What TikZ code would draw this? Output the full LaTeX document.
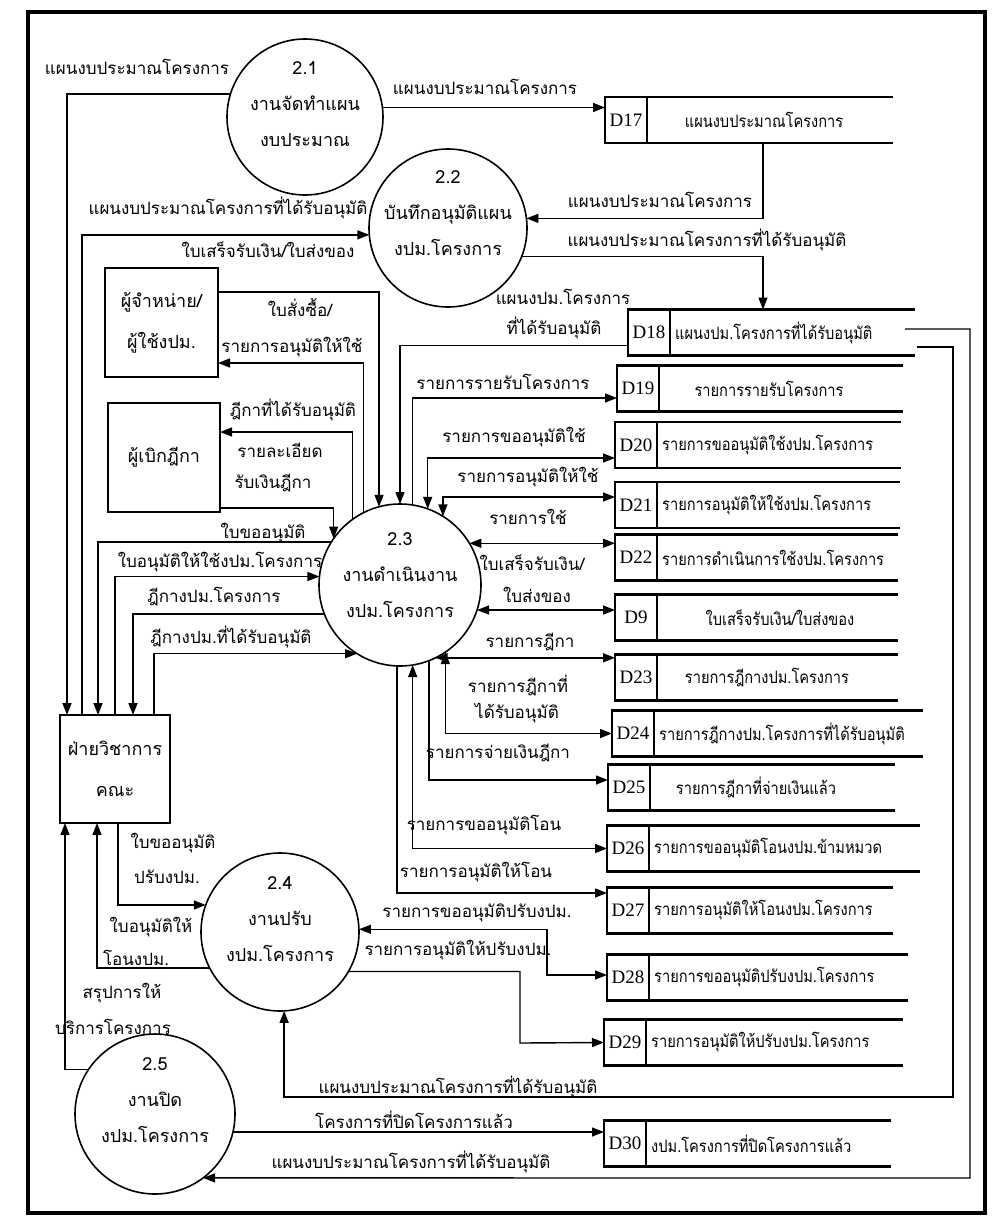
\documentclass[tikz,border=0pt]{standalone}
\usepackage{fontspec}
\setmainfont{Liberation Serif}
\newfontfamily\thaifont[Script=Thai]{Loma}
\newfontfamily\thainarrow[Script=Thai,FakeStretch=0.86]{Loma}
\newfontfamily\idfont{Liberation Serif}
\usetikzlibrary{arrows.meta}

% data store: name, left x, centre y, id, label, label placement, right end x
\newcommand\dfdstore[7]{%
  \node[storebody, minimum width={#7-#2}] (#1) at ({(#2+#7)/2},#3) {};
  \node[storeid, anchor=west] (#1id) at (#1.west) {#4};
  \draw[storeline] (#1.north west) -- (#1.north east) (#1.south west) -- (#1.south east);
  \node[slbl, #6] (#1txt) {#5};
}

\tikzset{
  proc/.style={circle, draw, line width=1.6pt, inner sep=0pt, outer sep=0pt},
  ptxt/.style={align=center, inner sep=0pt, font=\thaifont\fontsize{18}{36}\selectfont},
  ent/.style={draw, line width=1.5pt, inner sep=0pt, outer sep=0pt, align=center,
              font=\thaifont\fontsize{18}{41}\selectfont},
  storebody/.style={rectangle, inner sep=0pt, outer sep=0pt, minimum height=46pt},
  storeid/.style={draw, line width=2.4pt, inner sep=0pt, outer sep=0pt,
                  minimum width=42pt, minimum height=46pt,
                  font=\idfont\fontsize{19}{22}\selectfont},
  storeline/.style={line width=2.8pt},
  slbl/.style={inner sep=0pt, font=\thainarrow\fontsize{17}{20}\selectfont},
  after/.style={anchor=west, at={(#1id.east)}, xshift=5pt},
  lbl/.style={inner sep=1pt, font=\thaifont\fontsize{17}{20}\selectfont},
  tip/.tip={Triangle[length=12pt,width=9pt]},
  flow/.style={line width=1.4pt, -tip},
  bflow/.style={line width=1.4pt, tip-tip},
}

\begin{document}
\begin{tikzpicture}[x=1pt,y=-1pt]
\useasboundingbox (0,0) rectangle (991,1228);
\fill[white] (0,0) rectangle (991,1228);
\draw[line width=4.5pt] (28,12) rectangle (985,1213);

% processes
\node[proc, minimum size=156pt] (p21) at (305,117) {};
\node[ptxt] (p21t) at (305,104) {2.1\\งานจัดทำแผน\\งบประมาณ};
\node[proc, minimum size=158pt] (p22) at (448,228) {};
\node[ptxt] (p22t) at (448,213) {2.2\\บันทึกอนุมัติแผน\\งปม.โครงการ};
\node[proc, minimum size=162pt] (p23) at (400,585) {};
\node[ptxt] (p23t) at (400,575) {2.3\\งานดำเนินงาน\\งปม.โครงการ};
\node[proc, minimum size=158pt] (p24) at (280,932) {};
\node[ptxt] (p24t) at (280,919) {2.4\\งานปรับ\\งปม.โครงการ};
\node[proc, minimum size=160pt] (p25) at (155,1114) {};
\node[ptxt] (p25t) at (155,1100) {2.5\\งานปิด\\งปม.โครงการ};

% external entities
\node[ent, minimum width=113pt, minimum height=109pt] (ven) at (161.5,322.5) {ผู้จำหน่าย/\\ผู้ใช้งปม.};
\node[ent, minimum width=112pt, minimum height=109pt] (dk) at (164,457.5) {ผู้เบิกฎีกา};
\node[ent, minimum width=110pt, minimum height=108pt] (fa) at (115,769) {ฝ่ายวิชาการ\\คณะ};

% data stores
\dfdstore{d17}{605}{120}{D17}{แผนงบประมาณโครงการ}{at={(764,120)}}{893}
\dfdstore{d18}{628}{332.5}{D18}{แผนงปม.โครงการที่ได้รับอนุมัติ}{after=d18}{915}
\dfdstore{d19}{617}{388.5}{D19}{รายการรายรับโครงการ}{at={(769,388.5)}}{903}
\dfdstore{d20}{615}{445}{D20}{รายการขออนุมัติใช้งปม.โครงการ}{after=d20}{901}
\dfdstore{d21}{615}{505}{D21}{รายการอนุมัติให้ใช้งปม.โครงการ}{after=d21}{900}
\dfdstore{d22}{615}{557.5}{D22}{รายการดำเนินการใช้งปม.โครงการ}{after=d22}{898}
\dfdstore{d9}{615}{617.5}{D9}{ใบเสร็จรับเงิน/ใบส่งของ}{at={(780,617.5)}}{898}
\dfdstore{d23}{615}{677.5}{D23}{รายการฎีกางปม.โครงการ}{at={(767,677.5)}}{898}
\dfdstore{d24}{612}{733.5}{D24}{รายการฎีกางปม.โครงการที่ได้รับอนุมัติ}{after=d24}{923}
\dfdstore{d25}{608}{787.5}{D25}{รายการฎีกาที่จ่ายเงินแล้ว}{at={(756,787.5)}}{895}
\dfdstore{d26}{607}{848.5}{D26}{รายการขออนุมัติโอนงปม.ข้ามหมวด}{after=d26}{920}
\dfdstore{d27}{607}{910.5}{D27}{รายการอนุมัติให้โอนงปม.โครงการ}{after=d27}{893}
\dfdstore{d28}{607}{977.5}{D28}{รายการขออนุมัติปรับงปม.โครงการ}{after=d28}{908}
\dfdstore{d29}{604}{1042.5}{D29}{รายการอนุมัติให้ปรับงปม.โครงการ}{after=d29}{903}
\dfdstore{d30}{604}{1143.5}{D30}{งปม.โครงการที่ปิดโครงการแล้ว}{after=d30}{891}

% bend points
\coordinate (k28) at (547,975);
\coordinate (k29) at (520,1043);
\coordinate (k18a) at (953,1097);
\coordinate (k18b) at (970,1178);

% flows of 2.1 and 2.2
\draw[flow] (p21.163.6) -| ([xshift=7pt]fa.north west);
\draw[flow] (p21.7.4) -- (p21.7.4 -| d17.west);
\draw[flow] ([xshift=22pt]fa.north west) |- (p22.185);
\draw[flow] ([xshift=14pt]d17.south) |- (p22.7.3);
\draw[flow] (p22.-21.5) -| ([xshift=-8.5pt]d18.north);

% flows of 2.3, left side
\draw[flow] (p23.148.8) -| ([xshift=38pt]fa.north west);
\draw[flow] ([xshift=55pt]fa.north west) |- (p23.174.3);
\draw[flow] (p23.201.7) -| ([xshift=73pt]fa.north west);
\draw[flow] ([xshift=94pt]fa.north west) |- (p23.238.4);
\draw[flow] ([yshift=30.5pt]ven.east) -| (p23.105.8);
\draw[flow] (p23.117.2) |- ([yshift=-40.5pt]ven.east);
\draw[flow] (p23.126.3) |- ([yshift=25.5pt]dk.east);
\draw[flow] ([yshift=-50.5pt]dk.east) -| (p23.145.8);

% flows of 2.3, right side
\draw[flow] ([yshift=-13pt]d18.west) -| (p23.north);
\draw[flow] (p23.81.5) |- ([yshift=-9.5pt]d19.west);
\draw[bflow] (p23.70.5) |- ([yshift=-13pt]d20.west);
\draw[bflow] (p23.58) |- ([yshift=8pt]d21.west);
\draw[bflow] (p23.31.2) -- (p23.31.2 -| d22.west);
\draw[bflow] (p23.-18) -- (p23.-18 -| d9.west);
\draw[bflow] (p23.-64.3) -- (p23.-64.3 -| d23.west);
\draw[bflow] (p23.-56.3) |- (d24.west);
\draw[flow] (p23.-69.8) |- ([yshift=7.5pt]d25.west);
\draw[bflow] (p23.-81.5) |- (d26.west);
\draw[flow] (p23.-92.1) |- ([yshift=17.5pt]d27.west);

% flows of 2.4 and 2.5
\draw[bflow] (p24.2.9) -| (k28) -- ([yshift=2.5pt]d28.west);
\draw[flow] (p24.-30.4) -| (k29) -- (d29.west);
\draw[flow] ([xshift=58pt]fa.south west) |- (p24.160);
\draw[flow] (p24.207.1) -| ([xshift=37pt]fa.south west);
\draw[flow] (p25.146.6) -| ([xshift=5pt]fa.south west);
\draw[flow] ([xshift=2pt,yshift=-14.5pt]d18.east) -| (k18a) -| (p24.-87.8);
\draw[flow] ([xshift=-10pt,yshift=3.5pt]d18.east) -| (k18b) -- (p25.-53.1);
\draw[flow] (p25.-13) -- (p25.-13 -| d30.west);

% flow labels
\node[lbl] (l1) at (137,67) {แผนงบประมาณโครงการ};
\node[lbl] (l2) at (228,208) {แผนงบประมาณโครงการที่ได้รับอนุมัติ};
\node[lbl] (l32) at (485,87) {แผนงบประมาณโครงการ};
\node[lbl] (l30) at (660,200) {แผนงบประมาณโครงการ};
\node[lbl] (l31) at (707,240) {แผนงบประมาณโครงการที่ได้รับอนุมัติ};
\node[lbl] (l3) at (263,533) {ใบขออนุมัติ};
\node[lbl] (l4) at (220,562) {ใบอนุมัติให้ใช้งปม.โครงการ};
\node[lbl] (l5) at (214,597) {ฎีกางปม.โครงการ};
\node[lbl] (l6) at (231,637) {ฎีกางปม.ที่ได้รับอนุมัติ};
\node[lbl] (l7) at (268,250) {ใบเสร็จรับเงิน/ใบส่งของ};
\node[lbl] (l8a) at (300,308) {ใบสั่งซื้อ/};
\node[lbl] (l8b) at (292,347) {รายการอนุมัติให้ใช้};
\node[lbl] (l9) at (293,410) {ฎีกาที่ได้รับอนุมัติ};
\node[lbl] (l10a) at (280,450) {รายละเอียด};
\node[lbl] (l10b) at (273,483) {รับเงินฎีกา};
\node[lbl] (l11a) at (563,297) {แผนงปม.โครงการ};
\node[lbl] (l11b) at (554,328) {ที่ได้รับอนุมัติ};
\node[lbl] (l12) at (503,382) {รายการรายรับโครงการ};
\node[lbl] (l13) at (514,437) {รายการขออนุมัติใช้};
\node[lbl] (l14) at (528,477) {รายการอนุมัติให้ใช้};
\node[lbl] (l15) at (528,517) {รายการใช้};
\node[lbl] (l16a) at (532,563) {ใบเสร็จรับเงิน/};
\node[lbl] (l16b) at (537,595) {ใบส่งของ};
\node[lbl] (l17) at (530,642) {รายการฎีกา};
\node[lbl] (l18a) at (518,685) {รายการฎีกาที่};
\node[lbl] (l18b) at (517,713) {ได้รับอนุมัติ};
\node[lbl] (l19) at (498,753) {รายการจ่ายเงินฎีกา};
\node[lbl] (l20) at (484,825) {รายการขออนุมัติโอน};
\node[lbl] (l21) at (476,872) {รายการอนุมัติให้โอน};
\node[lbl] (l22) at (477,913) {รายการขออนุมัติปรับงปม.};
\node[lbl] (l23) at (458,950) {รายการอนุมัติให้ปรับงปม.};
\node[lbl] (l24a) at (173,843) {ใบขออนุมัติ};
\node[lbl] (l24b) at (167,877) {ปรับงปม.};
\node[lbl] (l25a) at (151,927) {ใบอนุมัติให้};
\node[lbl] (l25b) at (136,958) {โอนงปม.};
\node[lbl] (l26a) at (122,993) {สรุปการให้};
\node[lbl] (l26b) at (113,1027) {บริการโครงการ};
\node[lbl] (l27) at (458,1087) {แผนงบประมาณโครงการที่ได้รับอนุมัติ};
\node[lbl] (l29) at (414,1120) {โครงการที่ปิดโครงการแล้ว};
\node[lbl] (l28) at (411,1162) {แผนงบประมาณโครงการที่ได้รับอนุมัติ};
\end{tikzpicture}
\end{document}
